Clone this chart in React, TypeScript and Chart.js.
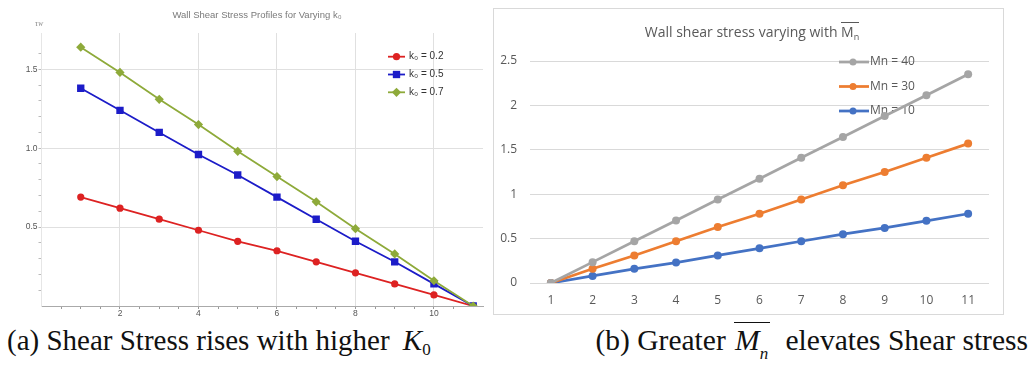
import React, { useEffect, useRef } from 'react';
import { Chart, registerables } from 'chart.js';

Chart.register(...registerables);

// ---------- Left chart data (Wall Shear Stress Profiles for Varying k0) ----------
const kX = [1, 2, 3, 4, 5, 6, 7, 8, 9, 10, 11];
const k02 = [0.69, 0.62, 0.55, 0.48, 0.41, 0.35, 0.28, 0.21, 0.14, 0.07, 0];
const k05 = [1.38, 1.24, 1.1, 0.96, 0.83, 0.69, 0.55, 0.41, 0.28, 0.14, 0];
const k07 = [1.64, 1.48, 1.31, 1.15, 0.98, 0.82, 0.66, 0.49, 0.33, 0.16, 0];
const kLabels = ['k₀ = 0.2', 'k₀ = 0.5', 'k₀ = 0.7'];
const leftXTickLabels = [2, 4, 6, 8, 10];
const leftYTickLabels = [0.5, 1.0, 1.5];

// ---------- Right chart data (Wall shear stress varying with Mn) ----------
const mnCategories = ['1', '2', '3', '4', '5', '6', '7', '8', '9', '10', '11'];
const mn40 = [0, 0.235, 0.47, 0.705, 0.94, 1.175, 1.41, 1.645, 1.88, 2.115, 2.35];
const mn30 = [0, 0.16, 0.31, 0.47, 0.63, 0.78, 0.94, 1.1, 1.25, 1.41, 1.57];
const mn10 = [0, 0.08, 0.16, 0.23, 0.31, 0.39, 0.47, 0.55, 0.62, 0.7, 0.78];
const mnLabels = ['Mn = 40', 'Mn = 30', 'Mn = 10'];

const near = (a: number, b: number) => Math.abs(a - b) < 1e-6;

function drawMarker(ctx: CanvasRenderingContext2D, style: string, x: number, y: number, r: number, color: string) {
  ctx.fillStyle = color;
  ctx.beginPath();
  if (style === 'rect') {
    const s = r * Math.SQRT1_2;
    ctx.rect(x - s, y - s, 2 * s, 2 * s);
  } else if (style === 'rectRot') {
    ctx.moveTo(x - r, y);
    ctx.lineTo(x, y - r);
    ctx.lineTo(x + r, y);
    ctx.lineTo(x, y + r);
    ctx.closePath();
  } else {
    ctx.arc(x, y, r, 0, Math.PI * 2);
  }
  ctx.fill();
}

const leftLegend = {
  id: 'leftLegend',
  afterDatasetsDraw(chart: any) {
    const { ctx, chartArea } = chart;
    ctx.save();
    chart.data.datasets.forEach((ds: any, i: number) => {
      const x0 = chartArea.right - 95;
      const y = chartArea.top + 23.7 + i * 17.8;
      ctx.strokeStyle = ds.borderColor;
      ctx.lineWidth = 1.8;
      ctx.beginPath();
      ctx.moveTo(x0, y);
      ctx.lineTo(x0 + 17, y);
      ctx.stroke();
      drawMarker(ctx, ds.pointStyle, x0 + 8.5, y, ds.pointRadius, ds.borderColor);
      ctx.fillStyle = '#333';
      ctx.font = '10px "Liberation Sans", Arial, sans-serif';
      ctx.textBaseline = 'middle';
      ctx.textAlign = 'left';
      ctx.fillText(ds.label, x0 + 21, y);
    });
    ctx.restore();
  },
};

const rightLegend = {
  id: 'rightLegend',
  beforeDatasetsDraw(chart: any) {
    const { ctx, chartArea } = chart;
    ctx.save();
    chart.data.datasets.forEach((ds: any, i: number) => {
      const x0 = chartArea.right - 150;
      const y = chartArea.top + 1 + i * 24.5;
      ctx.strokeStyle = ds.borderColor;
      ctx.lineWidth = 2.75;
      ctx.beginPath();
      ctx.moveTo(x0, y);
      ctx.lineTo(x0 + 30, y);
      ctx.stroke();
      drawMarker(ctx, 'circle', x0 + 14, y, 3.5, ds.borderColor);
      ctx.fillStyle = '#595959';
      ctx.font = '12px "Open Sans", sans-serif';
      ctx.textBaseline = 'middle';
      ctx.textAlign = 'left';
      ctx.fillText(ds.label, x0 + 31, y);
    });
    ctx.restore();
  },
};

function leftConfig(): any {
  const mk = (label: string, vals: number[], color: string, style: string, r: number, order: number) => ({
    label,
    data: kX.map((x, i) => ({ x, y: vals[i] })),
    borderColor: color,
    backgroundColor: color,
    pointBackgroundColor: color,
    pointBorderColor: color,
    pointBorderWidth: 0,
    pointStyle: style,
    pointRadius: r,
    borderWidth: 1.8,
    order,
  });
  return {
    type: 'line',
    data: {
      datasets: [
        mk(kLabels[0], k02, '#dd2222', 'circle', 3.6, 2),
        mk(kLabels[1], k05, '#1c1cc8', 'rect', 5.2, 1),
        mk(kLabels[2], k07, '#8eaa3a', 'rectRot', 4.6, 0),
      ],
    },
    plugins: [leftLegend],
    options: {
      animation: false,
      responsive: false,
      devicePixelRatio: 1,
      layout: { padding: { top: 33, right: 10, left: 0, bottom: 0 } },
      plugins: { legend: { display: false }, tooltip: { enabled: false }, title: { display: false } },
      scales: {
        x: {
          type: 'linear',
          min: 0,
          max: 11.25,
          afterFit: (s: any) => { s.height = 14; },
          ticks: {
            stepSize: 0.5,
            autoSkip: false,
            maxRotation: 0,
            padding: 0,
            color: '#555',
            font: { family: '"Liberation Sans", Arial, sans-serif', size: 8.5 },
            callback: (v: number) => (leftXTickLabels.some((t) => near(t, v)) ? String(v) : ''),
          },
          grid: {
            color: (c: any) => (c.tick && leftXTickLabels.some((t) => near(t, c.tick.value)) ? '#e0e0e0' : 'rgba(0,0,0,0)'),
            tickColor: (c: any) => (c.tick && near(c.tick.value * 2, Math.round(c.tick.value * 2)) && c.tick.value > 0 && c.tick.value <= 11 ? '#999' : 'rgba(0,0,0,0)'),
            tickLength: 3,
            lineWidth: 1,
          },
          border: { display: true, color: '#aaa', width: 1 },
        },
        y: {
          type: 'linear',
          min: 0,
          max: 1.73,
          afterFit: (s: any) => { s.width = 41.5; },
          ticks: {
            stepSize: 0.1,
            autoSkip: false,
            padding: 1,
            color: '#555',
            font: { family: '"Liberation Sans", Arial, sans-serif', size: 8.5 },
            callback: (v: number) => (leftYTickLabels.some((t) => near(t, v)) ? v.toFixed(1) : ''),
          },
          grid: {
            color: (c: any) => (c.tick && leftYTickLabels.some((t) => near(t, c.tick.value)) ? '#e0e0e0' : 'rgba(0,0,0,0)'),
            tickColor: (c: any) => (c.tick && Math.abs(c.tick.value * 10 - Math.round(c.tick.value * 10)) < 0.01 && c.tick.value > 0 ? '#bbb' : 'rgba(0,0,0,0)'),
            tickLength: 3,
            lineWidth: 1,
          },
          border: { display: true, color: '#e6e6e6', width: 1 },
        },
      },
    },
  };
}

function rightConfig(): any {
  const mk = (label: string, vals: number[], color: string) => ({
    label,
    data: vals,
    borderColor: color,
    backgroundColor: color,
    pointBackgroundColor: color,
    pointBorderColor: color,
    pointBorderWidth: 0,
    pointRadius: 4,
    borderWidth: 2.75,
  });
  return {
    type: 'line',
    data: {
      labels: mnCategories,
      datasets: [mk(mnLabels[0], mn40, '#a5a5a5'), mk(mnLabels[1], mn30, '#ed7d31'), mk(mnLabels[2], mn10, '#4472c4')],
    },
    plugins: [rightLegend],
    options: {
      animation: false,
      responsive: false,
      devicePixelRatio: 1,
      layout: { padding: { top: 53, right: 15, left: 0, bottom: 0 } },
      plugins: { legend: { display: false }, tooltip: { enabled: false }, title: { display: false } },
      scales: {
        x: {
          type: 'category',
          offset: true,
          afterFit: (s: any) => { s.height = 32; },
          ticks: {
            padding: 10,
            color: '#595959',
            maxRotation: 0,
            font: { family: '"Open Sans", sans-serif', size: 12 },
          },
          grid: { display: false, drawTicks: false },
          border: { display: false },
        },
        y: {
          type: 'linear',
          min: 0,
          max: 2.5,
          afterFit: (s: any) => { s.width = 37; },
          ticks: {
            stepSize: 0.5,
            padding: 13,
            color: '#595959',
            font: { family: '"Open Sans", sans-serif', size: 12 },
            callback: (v: number) => String(Math.round(v * 10) / 10),
          },
          grid: { color: '#d9d9d9', drawTicks: false, lineWidth: 1 },
          border: { display: false },
        },
      },
    },
  };
}

export default function App() {
  const leftRef = useRef<HTMLCanvasElement>(null);
  const rightRef = useRef<HTMLCanvasElement>(null);

  useEffect(() => {
    const c1 = new Chart(leftRef.current as HTMLCanvasElement, leftConfig());
    const c2 = new Chart(rightRef.current as HTMLCanvasElement, rightConfig());
    return () => {
      c1.destroy();
      c2.destroy();
    };
  }, []);

  const serif = '"Liberation Serif", "Times New Roman", serif';

  return (
    <div style={{ position: 'absolute', left: 0, top: 0, width: 1030, height: 365, background: '#fff', overflow: 'hidden' }}>
      <canvas ref={leftRef} width={493} height={320} style={{ position: 'absolute', left: 0, top: 0, width: 493, height: 320 }} />
      <div
        style={{
          position: 'absolute',
          left: 157,
          top: 9,
          width: 200,
          textAlign: 'center',
          font: '9.5px "Liberation Sans", Arial, sans-serif',
          lineHeight: '12px',
          color: '#7a7a7a',
          whiteSpace: 'nowrap',
        }}
      >
        Wall Shear Stress Profiles for Varying k₀
      </div>
      <div
        style={{
          position: 'absolute',
          left: 35,
          top: 19,
          font: 'italic 8px "Liberation Serif", serif',
          lineHeight: '10px',
          color: '#888',
        }}
      >
        τ<span style={{ fontSize: '6px' }}>W</span>
      </div>

      <div
        style={{
          position: 'absolute',
          left: 493,
          top: 8,
          width: 511,
          height: 307,
          boxSizing: 'border-box',
          border: '1px solid #d9d9d9',
          background: '#fff',
        }}
      />
      <canvas ref={rightRef} width={511} height={307} style={{ position: 'absolute', left: 493, top: 8, width: 511, height: 307 }} />
      <div
        style={{
          position: 'absolute',
          left: 552,
          top: 22,
          width: 400,
          textAlign: 'center',
          font: '14px "Open Sans", sans-serif',
          lineHeight: '20px',
          color: '#595959',
          whiteSpace: 'nowrap',
        }}
      >
        Wall shear stress varying with{' '}
        <span style={{ position: 'relative' }}>
          <span style={{ position: 'absolute', left: 0, right: 0, top: 0, borderTop: '1px solid #595959' }} />
          M<span style={{ fontSize: '9px', verticalAlign: '-3px' }}>n</span>
        </span>
      </div>

      <div
        style={{
          position: 'absolute',
          left: 7,
          top: 326,
          font: `29px ${serif}`,
          lineHeight: '29px',
          color: '#111',
          whiteSpace: 'nowrap',
        }}
      >
        (a) Shear Stress rises with higher{' '}
        <span style={{ marginLeft: 6 }}>
          <i>K</i>
          <span style={{ fontSize: '17px', verticalAlign: '-5px' }}>0</span>
        </span>
      </div>
      <div
        style={{
          position: 'absolute',
          right: 2,
          top: 326,
          font: `29.5px ${serif}`,
          lineHeight: '29px',
          color: '#111',
          whiteSpace: 'nowrap',
        }}
      >
        (b) Greater{' '}
        <span style={{ position: 'relative', marginLeft: 2 }}>
          <span style={{ position: 'absolute', left: -1, right: -2, top: -2, borderTop: '1.5px solid #111' }} />
          <i>M</i>
          <i style={{ fontSize: '17px', verticalAlign: '-9px' }}>n</i>
        </span>{' '}
        <span style={{ marginLeft: 10 }}>elevates Shear stress</span>
      </div>
    </div>
  );
}
